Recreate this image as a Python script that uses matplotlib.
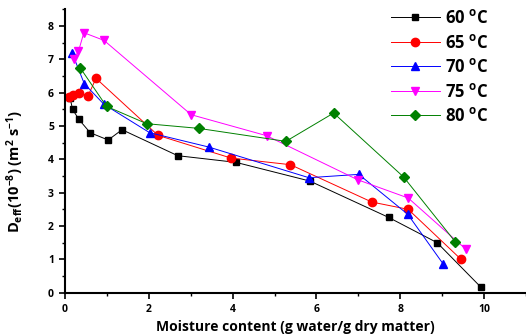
import numpy as np
import matplotlib
matplotlib.use('Agg')
import matplotlib.pyplot as plt
from matplotlib.ticker import MultipleLocator

plt.rcParams['font.family'] = 'Open Sans'
plt.rcParams['font.weight'] = 'bold'
plt.rcParams['mathtext.fontset'] = 'custom'
plt.rcParams['mathtext.rm'] = 'Open Sans:bold'
plt.rcParams['mathtext.bf'] = 'Open Sans:bold'
plt.rcParams['mathtext.it'] = 'Open Sans:bold'

# 60 C
x60 = [0.12, 0.18, 0.33, 0.60, 1.03, 1.36, 2.69, 4.08, 5.84, 7.72, 8.88, 9.92]
y60 = [5.85, 5.50, 5.20, 4.80, 4.58, 4.89, 4.11, 3.91, 3.35, 2.26, 1.50, 0.17]
# 65 C
x65 = [0.10, 0.20, 0.34, 0.55, 0.74, 2.22, 3.96, 5.38, 7.32, 8.19, 9.45]
y65 = [5.87, 5.94, 5.99, 5.91, 6.43, 4.72, 4.04, 3.84, 2.72, 2.50, 1.00]
# 70 C
x70 = [0.17, 0.46, 0.93, 2.02, 3.43, 5.82, 7.01, 8.18, 9.03]
y70 = [7.19, 6.27, 5.65, 4.80, 4.37, 3.45, 3.55, 2.35, 0.85]
# 75 C
x75 = [0.21, 0.32, 0.45, 0.93, 3.01, 4.81, 6.98, 8.19, 9.56]
y75 = [7.02, 7.24, 7.80, 7.57, 5.34, 4.71, 3.39, 2.84, 1.31]
# 80 C
x80 = [0.36, 0.99, 1.95, 3.19, 5.27, 6.41, 8.08, 9.31]
y80 = [6.75, 5.59, 5.07, 4.93, 4.54, 5.39, 3.47, 1.53]

labels = ['60 $^{o}$C', '65 $^{o}$C', '70 $^{o}$C', '75 $^{o}$C', '80 $^{o}$C']

fig = plt.figure(figsize=(5.26, 3.35), dpi=100)
ax = fig.add_axes([0.1236, 0.1263, 0.8764, 0.8457])

ax.plot(x60, y60, '-s', color='black', lw=0.7, ms=5, label=labels[0])
ax.plot(x65, y65, '-o', color='red', lw=0.7, ms=6, label=labels[1])
ax.plot(x70, y70, '-^', color='blue', lw=0.7, ms=6, label=labels[2])
ax.plot(x75, y75, '-v', color='magenta', lw=0.7, ms=6, label=labels[3])
ax.plot(x80, y80, '-D', color='green', lw=0.7, ms=5, label=labels[4])

ax.set_xlim(0, 11)
ax.set_ylim(0, 8.5)
ax.xaxis.set_minor_locator(MultipleLocator(1))
ax.yaxis.set_minor_locator(MultipleLocator(0.5))
ax.set_xticks([0, 2, 4, 6, 8, 10])
ax.set_yticks([0, 1, 2, 3, 4, 5, 6, 7, 8])
ax.tick_params(which='major', length=4, width=1.2, labelsize=7.5, pad=4)
ax.tick_params(which='minor', length=2.5, width=1.0)
ax.spines['top'].set_visible(False)
ax.spines['right'].set_visible(False)
ax.spines['left'].set_linewidth(1.5)
ax.spines['bottom'].set_linewidth(1.5)

ax.set_xlabel('Moisture content (g water/g dry matter)', fontsize=10, fontweight='bold')
ax.set_ylabel(r'D$_{eff}$(10$^{-8}$) (m$^{2}$ s$^{-1}$)', fontsize=10.5, fontweight='bold')
ax.yaxis.set_label_coords(-0.085, 0.43)

leg = ax.legend(loc='upper left', bbox_to_anchor=(0.728, 0.998), bbox_transform=fig.transFigure,
                frameon=False, fontsize=12, handlelength=2.9, labelspacing=0.39,
                handletextpad=0.3, borderpad=0.0)

fig.savefig('out.png', dpi=100)
